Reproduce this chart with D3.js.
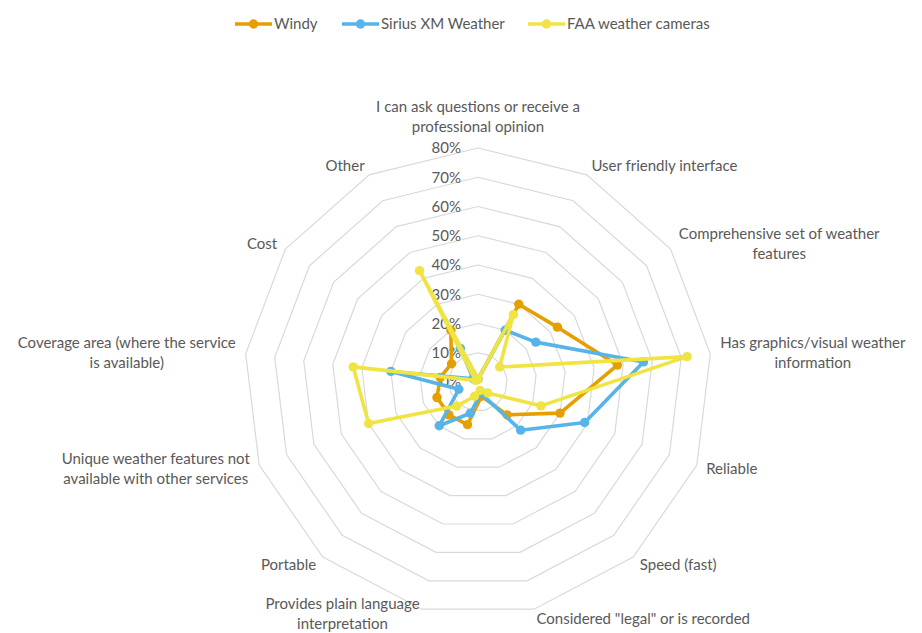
<!DOCTYPE html>
<html>
<head>
<meta charset="utf-8">
<script src="https://cdn.jsdelivr.net/npm/d3@7"></script>
<style>
  body { margin: 0; background: #fff; }
  text { font-family: Lato, "Open Sans", sans-serif; fill: #595959; }
</style>
</head>
<body>
<div id="chart"></div>
<script>
var svgWidth = 922;
var svgHeight = 633;

// axis names, clockwise from the top ("\n" = line break)
var categories = [
  "I can ask questions or receive a\nprofessional opinion",
  "User friendly interface",
  "Comprehensive set of weather\nfeatures",
  "Has graphics/visual weather\ninformation",
  "Reliable",
  "Speed (fast)",
  "Considered \"legal\" or is recorded",
  "Provides plain language\ninterpretation",
  "Portable",
  "Unique weather features not\navailable with other services",
  "Coverage area (where the service\nis available)",
  "Cost",
  "Other"
];

var seriesNames = ["Windy", "Sirius XM Weather", "FAA weather cameras"];
var seriesColors = ["#E69F00", "#56B4E9", "#F0E442"];

var windy  = [0.01, 0.30, 0.33, 0.48, 0.30, 0.15, 0.05, 0.15, 0.15, 0.15, 0.13, 0.11, 0.20];
var sirius = [0.01, 0.20, 0.24, 0.57, 0.39, 0.22, 0.04, 0.11, 0.20, 0.07, 0.30, 0.02, 0.13];
var faa    = [0.01, 0.26, 0.09, 0.72, 0.23, 0.05, 0.03, 0.05, 0.11, 0.40, 0.43, 0.01, 0.43];

var tickValues = [0, 0.1, 0.2, 0.3, 0.4, 0.5, 0.6, 0.7, 0.8];

// chart centre and size
var cx = 478, cy = 382, outerR = 234;
var fontSize = "15px";

var svg = d3.select("#chart")
  .append("svg")
  .attr("width", svgWidth)
  .attr("height", svgHeight);

var rScale = d3.scaleLinear().domain([0, 0.8]).range([0, outerR]);
var angle = d3.scalePoint()
  .domain(d3.range(categories.length + 1))
  .range([0, 2 * Math.PI]);

function pos(i, v) {
  var a = angle(i % categories.length);
  return [cx + rScale(v) * Math.sin(a), cy - rScale(v) * Math.cos(a)];
}

var chartGroup = svg.append("g");

// grid rings
var ringLine = d3.line();
chartGroup.selectAll(".ring")
  .data(tickValues.slice(1))
  .enter()
  .append("path")
  .attr("class", "ring")
  .attr("d", function(v) {
    return ringLine(categories.map(function(c, i) { return pos(i, v); })) + "Z";
  })
  .attr("fill", "none")
  .attr("stroke", "#d9d9d9")
  .attr("stroke-width", 1.2);

// tick labels along the top axis
chartGroup.selectAll(".tick")
  .data(tickValues)
  .enter()
  .append("text")
  .attr("x", cx - 17)
  .attr("y", function(v) { return cy - rScale(v); })
  .attr("dy", "0.35em")
  .attr("text-anchor", "end")
  .style("font-size", fontSize)
  .text(d3.format(".0%"));

// category labels outside the outer ring, lines centred inside their block
var lineH = 20;
categories.forEach(function(c, i) {
  var a = angle(i);
  var s = Math.sin(a), co = Math.cos(a);
  var x = cx + (outerR + 10) * s;
  var y = cy - (outerR + 10) * co;
  var lines = c.split("\n");
  var y0;
  if (i === 0) y0 = y - 11 - (lines.length - 1) * lineH;
  else y0 = y - (lines.length - 1) * lineH / 2;
  // keep the last line inside the picture
  y0 = Math.min(y0, 624 - (lines.length - 1) * lineH);
  var t = chartGroup.append("text")
    .attr("text-anchor", "middle")
    .style("font-size", fontSize);
  var spans = lines.map(function(l, k) {
    return t.append("tspan")
      .attr("y", y0 + k * lineH)
      .attr("dy", "0.35em")
      .text(l);
  });
  var w = d3.max(spans, function(sp) { return sp.node().getComputedTextLength(); });
  var mid = s > 0.1 ? x + w / 2 : (s < -0.1 ? x - w / 2 : x);
  spans.forEach(function(sp) { sp.attr("x", mid); });
});

// series
var allSeries = [windy, sirius, faa];
var line = d3.line();
allSeries.forEach(function(vals, si) {
  var pts = vals.map(function(v, i) { return pos(i, v); });
  chartGroup.append("path")
    .attr("d", line(pts) + "Z")
    .attr("fill", "none")
    .attr("stroke", seriesColors[si])
    .attr("stroke-width", 3.6)
    .attr("stroke-linejoin", "round");
  chartGroup.append("g").selectAll("circle")
    .data(pts)
    .enter()
    .append("circle")
    .attr("cx", function(d) { return d[0]; })
    .attr("cy", function(d) { return d[1]; })
    .attr("r", 4.7)
    .attr("fill", seriesColors[si]);
});

// legend
var legendX = [235, 342, 528];
var legend = svg.append("g");
seriesNames.forEach(function(name, si) {
  var lx = legendX[si];
  legend.append("line")
    .attr("x1", lx).attr("x2", lx + 37)
    .attr("y1", 24).attr("y2", 24)
    .attr("stroke", seriesColors[si])
    .attr("stroke-width", 3.6);
  legend.append("circle")
    .attr("cx", lx + 18.5).attr("cy", 24)
    .attr("r", 4.7)
    .attr("fill", seriesColors[si]);
  legend.append("text")
    .attr("x", lx + 39).attr("y", 24)
    .attr("dy", "0.35em")
    .style("font-size", fontSize)
    .text(name);
});
</script>
</body>
</html>
